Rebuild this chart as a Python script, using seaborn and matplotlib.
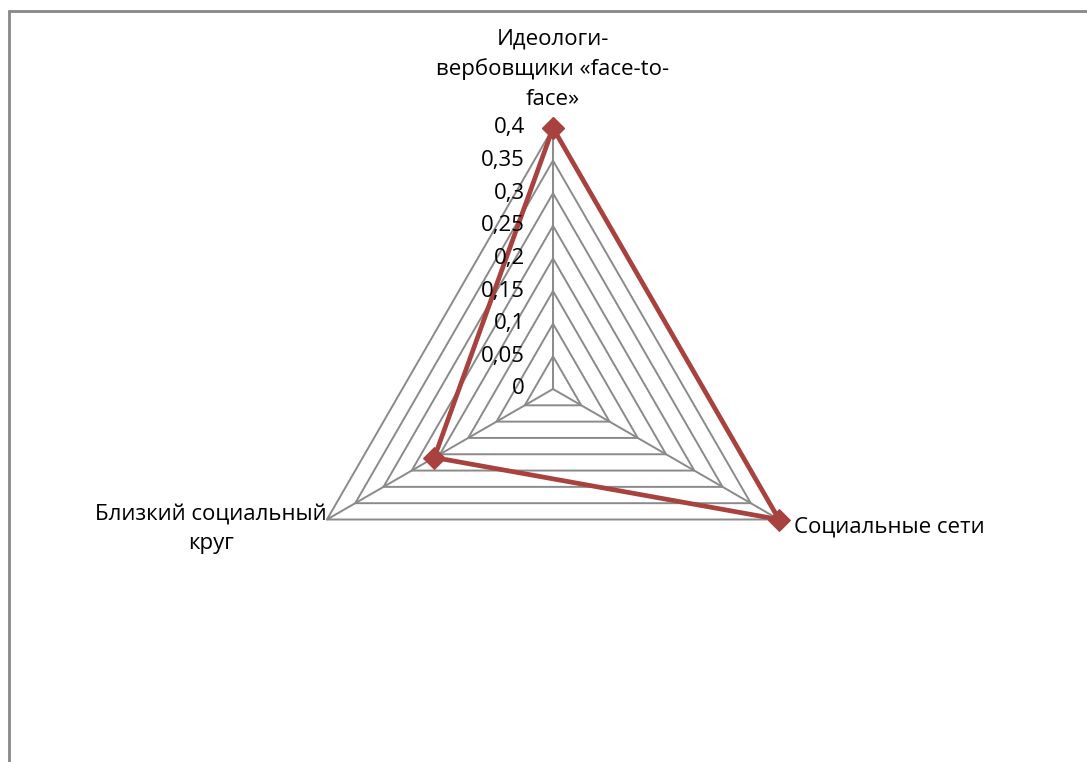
import numpy as np
import matplotlib
matplotlib.use("Agg")
import matplotlib.pyplot as plt
from matplotlib.lines import Line2D
from matplotlib.transforms import offset_copy
import seaborn as sns

# Radar data: three recruitment channels
categories = ["Идеологи-\nвербовщики «face-to-\nface»", "Социальные сети", "Близкий социальный\nкруг"]
values = [0.4, 0.4, 0.21]
levels = [0.05, 0.1, 0.15, 0.2, 0.25, 0.3, 0.35, 0.4]
level_labels = ["0", "0,05", "0,1", "0,15", "0,2", "0,25", "0,3", "0,35", "0,4"]

sns.set_theme(style="white")
plt.rcParams["font.family"] = ["Open Sans", "DejaVu Sans"]
plt.rcParams["text.color"] = "black"
FS = 16

fig = plt.figure(figsize=(10.87, 7.62), dpi=100)
W, H = 1087, 762
cx, cy, R = 553, 389, 261
ax = fig.add_axes([(cx - R) / W, (H - cy - R) / H, 2 * R / W, 2 * R / H], projection="polar")
ax.set_theta_offset(np.pi / 2)
ax.set_theta_direction(-1)
ax.set_ylim(0, 0.4)
ax.grid(False)
ax.set_xticks([])
ax.set_yticks([])
ax.spines["polar"].set_visible(False)
ax.patch.set_alpha(0)

n = len(categories)
theta = np.arange(n) * 2 * np.pi / n
theta_closed = np.append(theta, theta[0])

grid_color = "#8a8a8a"
for lv in levels:
    ax.plot(theta_closed, [lv] * (n + 1), color=grid_color, lw=1.4, zorder=1, clip_on=False)
for t in theta:
    ax.plot([t, t], [0, 0.4], color=grid_color, lw=1.4, zorder=1, clip_on=False)

vals_closed = values + [values[0]]
sns.lineplot(x=theta_closed, y=vals_closed, sort=False, estimator=None, ax=ax,
             color="#a8423f", lw=3.4, marker="D", markersize=11,
             markeredgecolor="#a8423f", zorder=3, clip_on=False)

# Value scale along the top spoke
tick_tr = offset_copy(ax.transData, fig=fig, x=-28, y=0, units="dots")
for lv, lab in zip([0.0] + levels, level_labels):
    ax.text(0, lv, lab, transform=tick_tr, ha="right", va="center", fontsize=FS, color="black")

# Category labels around the triangle
tr_top = offset_copy(ax.transData, fig=fig, x=0, y=18, units="dots")
ax.text(theta[0], 0.4, categories[0], transform=tr_top, ha="center", va="bottom",
        fontsize=FS, linespacing=1.55, multialignment="center", color="black")
tr_right = offset_copy(ax.transData, fig=fig, x=15, y=-8, units="dots")
ax.text(theta[1], 0.4, categories[1], transform=tr_right, ha="left", va="center",
        fontsize=FS, color="black")
tr_left = offset_copy(ax.transData, fig=fig, x=0, y=-9, units="dots")
ax.text(theta[2], 0.4, categories[2], transform=tr_left, ha="right", va="center",
        fontsize=FS, linespacing=1.55, multialignment="center", color="black")

# Chart-area frame (left and top edges)
fx, fy = 8.7 / W, 1 - 11.3 / H
fig.add_artist(Line2D([fx, fx], [0, fy], transform=fig.transFigure, color="#878787", lw=2))
fig.add_artist(Line2D([fx, 1.0], [fy, fy], transform=fig.transFigure, color="#878787", lw=2))

fig.savefig("out.png", dpi=100)
